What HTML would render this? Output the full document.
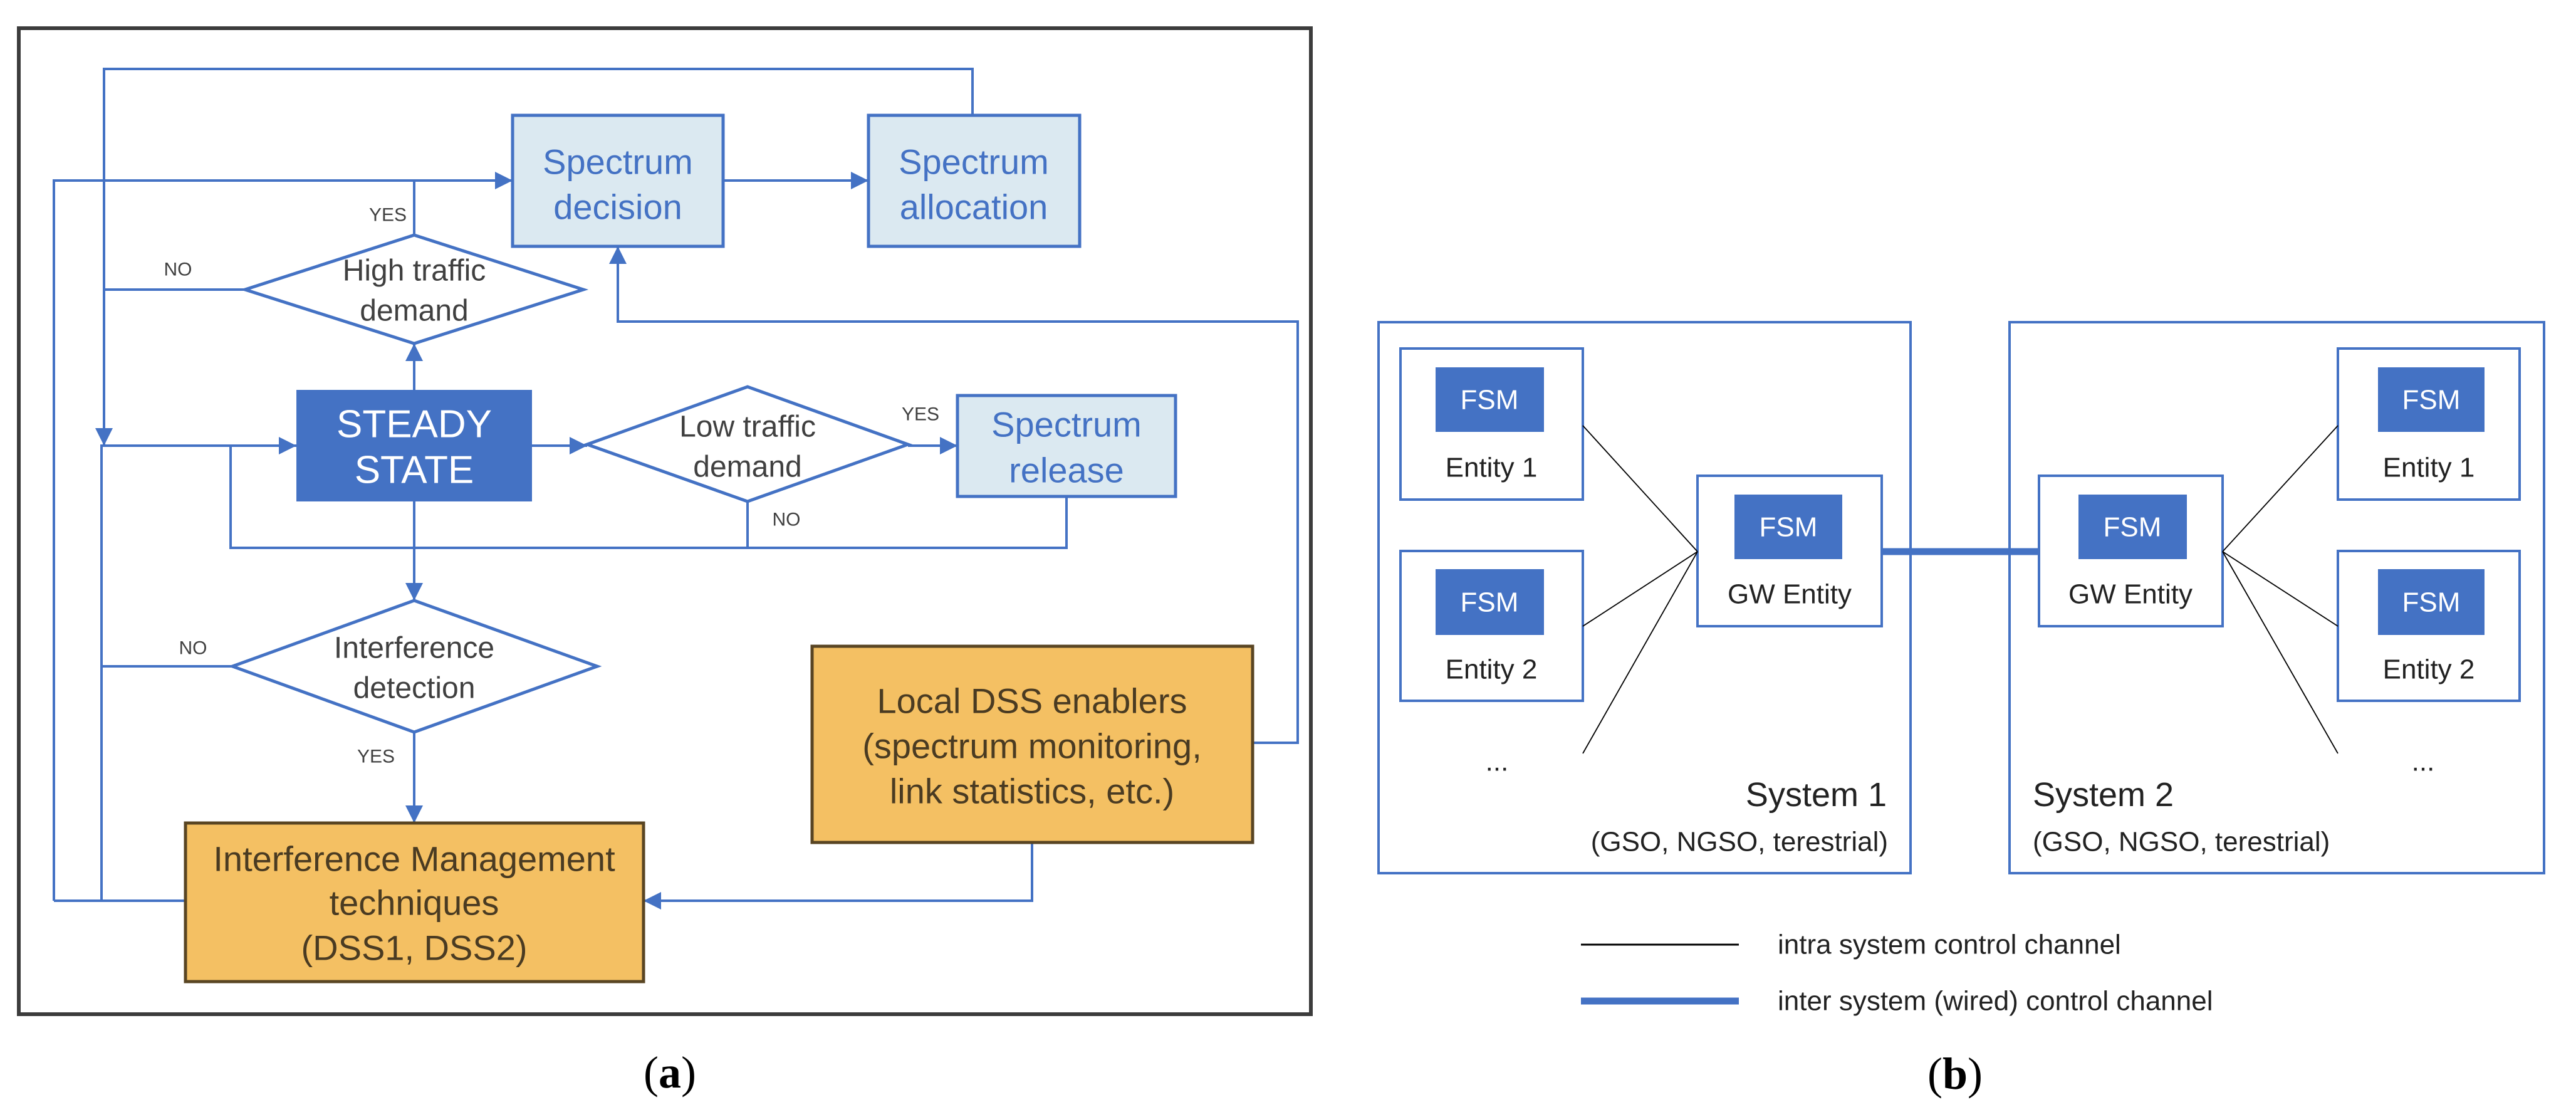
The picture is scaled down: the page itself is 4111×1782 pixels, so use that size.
<!DOCTYPE html>
<html><head><meta charset="utf-8"><style>
html,body{margin:0;padding:0;background:#fff;}
svg{display:block;}
text{font-family:"Liberation Sans",sans-serif;}
</style></head><body>
<svg width="4111" height="1782" viewBox="0 0 4111 1782" xmlns="http://www.w3.org/2000/svg">
<defs>
<marker id="ar" markerUnits="userSpaceOnUse" markerWidth="30" markerHeight="30" refX="28" refY="14" orient="auto">
<path d="M0,0 L28,14 L0,28 z" fill="#4472c4"/>
</marker>
</defs>
<rect x="0" y="0" width="4111" height="1782" fill="#fff"/>
<!-- (a) frame -->
<rect x="30" y="45" width="2062" height="1573" fill="none" stroke="#3c3c3c" stroke-width="6"/>

<g fill="none" stroke="#4472c4" stroke-width="4">
<path d="M1552,184 V110 H166 V711" marker-end="url(#ar)"/>
<path d="M86,1437 V288 H818" marker-end="url(#ar)"/>
<path d="M1154,288 H1386" marker-end="url(#ar)"/>
<path d="M661,375 V288"/>
<path d="M391,462 H166"/>
<path d="M296,1437 H86"/>
<path d="M162,1437 V711 H473" marker-end="url(#ar)"/>
<path d="M661,622 V548" marker-end="url(#ar)"/>
<path d="M849,711 H937" marker-end="url(#ar)"/>
<path d="M1449,711 H1528" marker-end="url(#ar)"/>
<path d="M368,711 V874 H1702 V792"/>
<path d="M1193,800 V874"/>
<path d="M661,800 V958" marker-end="url(#ar)"/>
<path d="M371,1063 H162"/>
<path d="M661,1168 V1313" marker-end="url(#ar)"/>
<path d="M1999,1185 H2071 V513 H986 V393" marker-end="url(#ar)"/>
<path d="M1647,1344 V1437 H1027" marker-end="url(#ar)"/>
</g>

<!-- boxes -->
<rect x="818" y="184" width="336" height="209" fill="#dbe9f1" stroke="#4472c4" stroke-width="5"/>
<rect x="1386" y="184" width="337" height="209" fill="#dbe9f1" stroke="#4472c4" stroke-width="5"/>
<rect x="1528" y="631" width="348" height="161" fill="#dbe9f1" stroke="#4472c4" stroke-width="5"/>
<rect x="473" y="622" width="376" height="178" fill="#4472c4"/>
<polygon points="391,462 661,375 931,462 661,548" fill="#fff" stroke="#4472c4" stroke-width="5"/>
<polygon points="937,709 1193,617 1449,709 1193,800" fill="#fff" stroke="#4472c4" stroke-width="5"/>
<polygon points="371,1063 661,958 953,1063 661,1168" fill="#fff" stroke="#4472c4" stroke-width="5"/>
<rect x="296" y="1313" width="731" height="253" fill="#f4c063" stroke="#594523" stroke-width="5"/>
<rect x="1296" y="1031" width="703" height="313" fill="#f4c063" stroke="#594523" stroke-width="5"/>

<g text-anchor="middle" dominant-baseline="central">
<g fill="#4472c4" font-size="56">
<text x="986" y="258">Spectrum</text><text x="986" y="330">decision</text>
<text x="1554" y="258">Spectrum</text><text x="1554" y="330">allocation</text>
<text x="1702" y="677">Spectrum</text><text x="1702" y="750">release</text>
</g>
<g fill="#fff" font-size="62">
<text x="661" y="677">STEADY</text><text x="661" y="750">STATE</text>
</g>
<g fill="#404040" font-size="48">
<text x="661" y="432">High traffic</text><text x="661" y="496">demand</text>
<text x="1193" y="681">Low traffic</text><text x="1193" y="745">demand</text>
<text x="661" y="1034">Interference</text><text x="661" y="1098">detection</text>
</g>
<g fill="#404040" font-size="30">
<text x="619" y="343">YES</text>
<text x="284" y="430">NO</text>
<text x="1469" y="661">YES</text>
<text x="1255" y="829">NO</text>
<text x="308" y="1034">NO</text>
<text x="600" y="1207">YES</text>
</g>
<g fill="#4a3b22" font-size="56">
<text x="661" y="1370">Interference Management</text>
<text x="661" y="1440">techniques</text>
<text x="661" y="1512">(DSS1, DSS2)</text>
<text x="1647" y="1118">Local DSS enablers</text>
<text x="1647" y="1190">(spectrum monitoring,</text>
<text x="1647" y="1262">link statistics, etc.)</text>
</g>
<text x="1069" y="1711" font-size="72" fill="#000" style="font-family:'Liberation Serif',serif">(<tspan font-weight="bold">a</tspan>)</text>
<text x="3120" y="1713" font-size="72" fill="#000" style="font-family:'Liberation Serif',serif">(<tspan font-weight="bold">b</tspan>)</text>
</g>

<!-- (b) -->
<g fill="none" stroke="#4472c4" stroke-width="4">
<rect x="2200" y="514" width="849" height="879"/>
<rect x="3207" y="514" width="853" height="879"/>
<rect x="2235" y="556" width="291" height="241"/>
<rect x="2235" y="879" width="291" height="239"/>
<rect x="2709" y="759" width="294" height="240"/>
<rect x="3254" y="759" width="293" height="240"/>
<rect x="3731" y="556" width="290" height="241"/>
<rect x="3731" y="879" width="290" height="239"/>
</g>
<g fill="#4472c4">
<rect x="2291" y="586" width="173" height="103"/>
<rect x="2291" y="908" width="173" height="105"/>
<rect x="2768" y="789" width="172" height="103"/>
<rect x="3317" y="789" width="173" height="103"/>
<rect x="3795" y="586" width="170" height="103"/>
<rect x="3795" y="908" width="170" height="105"/>
</g>
<path d="M3003,880 H3254" stroke="#4472c4" stroke-width="11"/>
<g stroke="#000" stroke-width="1.8">
<path d="M2526,679 L2709,880 M2526,999 L2709,880 M2526,1202 L2709,880"/>
<path d="M3547,880 L3731,679 M3547,880 L3731,999 M3547,880 L3731,1202"/>
<path d="M2523,1507 H2775" stroke-width="3"/>
</g>
<path d="M2523,1597 H2775" stroke="#4472c4" stroke-width="11"/>
<g text-anchor="middle" dominant-baseline="central" font-size="44">
<g fill="#fff">
<text x="2377" y="638">FSM</text><text x="2377" y="961">FSM</text>
<text x="2854" y="841">FSM</text><text x="3403" y="841">FSM</text>
<text x="3880" y="638">FSM</text><text x="3880" y="961">FSM</text>
</g>
<g fill="#222">
<text x="2380" y="746">Entity 1</text><text x="2380" y="1068">Entity 2</text>
<text x="2856" y="948">GW Entity</text><text x="3400" y="948">GW Entity</text>
<text x="3876" y="746">Entity 1</text><text x="3876" y="1068">Entity 2</text>
<text x="2389" y="1215">...</text><text x="3867" y="1215">...</text>
</g>
</g>
<g fill="#222" dominant-baseline="central">
<text x="3011" y="1268" font-size="54" text-anchor="end">System 1</text>
<text x="3013" y="1343" font-size="44" text-anchor="end">(GSO, NGSO, terestrial)</text>
<text x="3244" y="1268" font-size="54">System 2</text>
<text x="3244" y="1343" font-size="44">(GSO, NGSO, terestrial)</text>
<text x="2837" y="1507" font-size="44">intra system control channel</text>
<text x="2837" y="1597" font-size="44">inter system (wired) control channel</text>
</g>
</svg>
</body></html>
